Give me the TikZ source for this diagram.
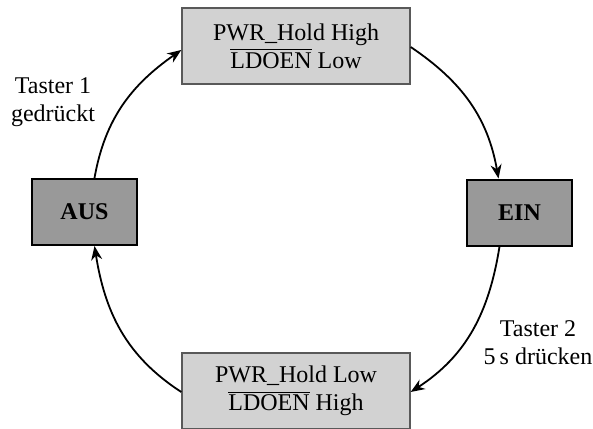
\documentclass[tikz,border=0pt]{standalone}
\usepackage{fontspec}
\setmainfont{Liberation Serif}
\usepackage{tikz}
\usetikzlibrary{arrows.meta,positioning}
\colorlet{colorHOLD}{gray!35}
\colorlet{colorHOLDB}{gray!70!black}
\colorlet{colorSTATE}{gray!80}
\tikzset{
   hold/.style={draw=colorHOLDB, fill=colorHOLD, line width=0.7pt, minimum width=114pt, minimum height=38pt, align=center, inner sep=0pt},
   state/.style={draw=black, fill=colorSTATE, line width=1pt, minimum width=52.5pt, minimum height=33pt, font=\fontsize{12}{14}\selectfont\bfseries, inner sep=0pt},
   trans/.style={-{Stealth[length=7pt,width=5.5pt]}, line width=0.9pt},
   cond/.style={align=center},
}

\begin{document}
\begin{tikzpicture}[
    x=0.5pt, y=-0.5pt,
    every node/.style={font=\fontsize{12}{14}\selectfont}
]

\useasboundingbox (0,0) rectangle (593,428);

% =========================================================
% Zustaende
% =========================================================

\node[state] (aus) at (84.5,212) {AUS};
\node[state] (ein) at (519.5,212.5) {EIN};


% =========================================================
% Uebergaenge
% =========================================================

\node[hold] (on) at (296,46)
{PWR\_Hold High\\ $\overline{\mbox{LDOEN}}$ Low};

\node[hold] (off) at (296,391)
{PWR\_Hold Low\\ $\overline{\mbox{LDOEN}}$ High};


% =========================================================
% Bedingungen
% =========================================================

\node[cond] (t1) at (53,102) {Taster 1\\ gedrückt};
\node[cond] (t2) at (538,343) {Taster 2\\ 5\,s drücken};


% =========================================================
% Pfeile
% =========================================================

\draw[trans] ([xshift=5pt]aus.north) to[out=80,in=215] ([yshift=-2pt]on.west);
\draw[trans] ([yshift=-0.5pt]on.east) to[out=-34,in=100] ([xshift=-10.5pt]ein.north);
\draw[trans] ([xshift=-10pt]ein.south) to[out=-99,in=33] ([yshift=-0.5pt]off.east);
\draw[trans] ([yshift=-0.5pt]off.west) to[out=147,in=-81] ([xshift=5pt]aus.south);

\end{tikzpicture}
\end{document}
